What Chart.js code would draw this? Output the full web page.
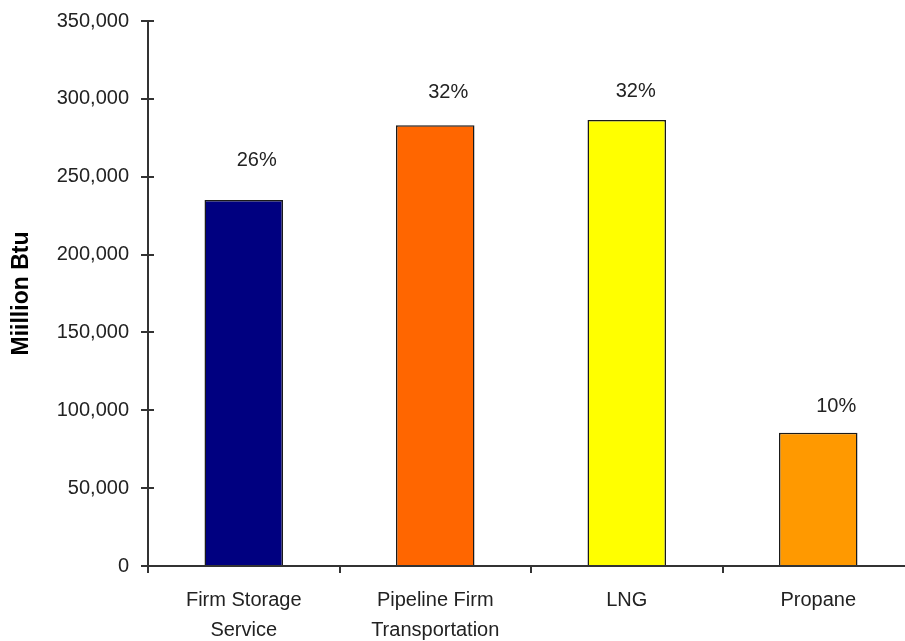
<!DOCTYPE html>
<html>
<head>
  <meta charset="UTF-8">
  <title>Million Btu by resource</title>
  <script src="https://cdn.jsdelivr.net/npm/chart.js@4.4.4/dist/chart.umd.min.js"></script>
  <style>
    html, body { margin: 0; padding: 0; background: #fff; overflow: hidden; }
    /* plot runs slightly past the right edge, like the reference crop */
    .wrap { width: 914px; height: 641px; }
  </style>
</head>
<body>
<div class="wrap">
  <canvas id="chart" width="914" height="641"></canvas>
</div>

<script>
  // —— data ————————————————————————————————————————————
  const categories = [['Firm Storage', 'Service'], ['Pipeline Firm', 'Transportation'], 'LNG', 'Propane'];
  const values = [235000, 283000, 286500, 85500];
  const shares = ['26%', '32%', '32%', '10%'];
  const yTicks = [0, 50000, 100000, 150000, 200000, 250000, 300000, 350000];

  // —— styles ——————————————————————————————————————————
  const barColors = ['#000080', '#FF6600', '#FFFF00', '#FF9900'];
  const shareOffsetX = [13, 13, 9, 18];
  const shareOffsetY = [40, 33, 28, 26];
  const FONT = "'Liberation Sans', Arial, sans-serif";
  const AXIS = '#333';

  // share labels above bars + inward half of the y tick marks
  const extras = {
    id: 'extras',
    afterDatasetsDraw(chart) {
      const ctx = chart.ctx;
      const meta = chart.getDatasetMeta(0);
      ctx.save();
      ctx.font = '20px ' + FONT;
      ctx.fillStyle = '#222';
      ctx.textAlign = 'center';
      ctx.textBaseline = 'middle';
      meta.data.forEach((bar, i) => {
        ctx.fillText(shares[i], bar.x + shareOffsetX[i], bar.y - shareOffsetY[i]);
      });
      const y = chart.scales.y;
      ctx.strokeStyle = AXIS;
      ctx.lineWidth = 2;
      y.ticks.forEach((t, i) => {
        const py = Math.round(y.getPixelForTick(i));
        ctx.beginPath();
        ctx.moveTo(y.right, py);
        ctx.lineTo(y.right + 6, py);
        ctx.stroke();
      });
      ctx.restore();
    }
  };

  new Chart(document.getElementById('chart'), {
    type: 'bar',
    data: {
      labels: categories,
      datasets: [{
        data: values,
        backgroundColor: barColors,
        borderColor: '#1a1a1a',
        borderWidth: 1.5,
        categoryPercentage: 1,
        barPercentage: 0.41
      }]
    },
    options: {
      responsive: false,
      animation: false,
      devicePixelRatio: 1,
      layout: { padding: { top: 21, right: 0, bottom: 0, left: 0 } },
      plugins: {
        legend: { display: false },
        tooltip: { enabled: false }
      },
      scales: {
        x: {
          grid: { offset: true, drawOnChartArea: false, drawTicks: true, tickLength: 7, color: AXIS, lineWidth: 2 },
          border: { color: AXIS, width: 2 },
          ticks: {
            color: '#222',
            font: { family: FONT, size: 20, lineHeight: 1.5 },
            padding: 12,
            maxRotation: 0,
            autoSkip: false
          },
          afterFit: s => { s.height = 75; }
        },
        y: {
          min: 0,
          max: 350000,
          afterBuildTicks: s => { s.ticks = yTicks.map(v => ({ value: v })); },
          grid: { drawOnChartArea: false, drawTicks: true, tickLength: 7, color: AXIS, lineWidth: 2 },
          border: { color: AXIS, width: 2 },
          ticks: {
            color: '#222',
            font: { family: FONT, size: 20 },
            padding: 12,
            callback: v => v.toLocaleString('en-US')
          },
          title: {
            display: true,
            text: 'Miillion Btu',
            color: '#000',
            font: { family: FONT, size: 23, weight: 'bold', lineHeight: 1.2 },
            padding: { top: 8, bottom: 0 }
          },
          afterFit: s => { s.width = 148; s.paddingTop = 0; s.paddingBottom = 0; }
        }
      }
    },
    plugins: [extras]
  });
</script>
</body>
</html>
